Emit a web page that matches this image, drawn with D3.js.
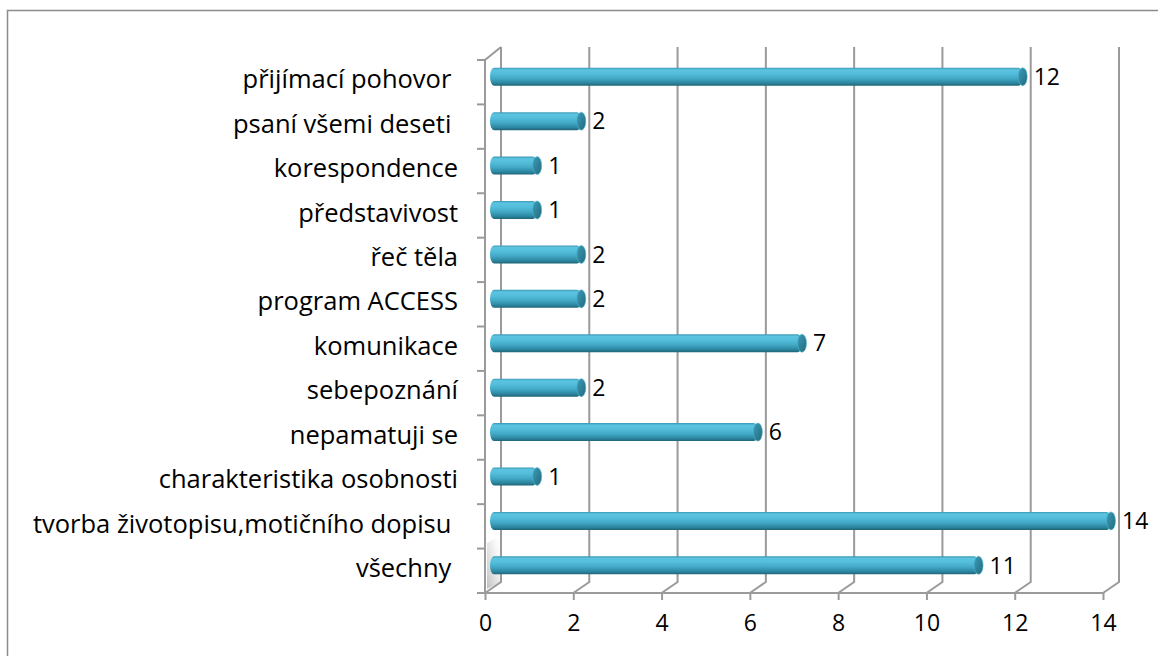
<!DOCTYPE html>
<html>
<head>
<meta charset="utf-8">
<script src="https://cdn.jsdelivr.net/npm/d3@7"></script>
<style>
  html, body { margin: 0; padding: 0; background: #fff; }
  svg { display: block; }
</style>
</head>
<body>
<svg id="chart" width="1158" height="656"></svg>
<script>
// ---- data ----
const categories = [
  "přijímací pohovor ",
  "psaní všemi deseti ",
  "korespondence",
  "představivost",
  "řeč těla",
  "program ACCESS",
  "komunikace",
  "sebepoznání",
  "nepamatuji se",
  "charakteristika osobnosti",
  "tvorba životopisu,motičního dopisu ",
  "všechny "
];
const values = [12, 2, 1, 1, 2, 2, 7, 2, 6, 1, 14, 11];
const tickValues = [0, 2, 4, 6, 8, 10, 12, 14];

// ---- layout ----
const svg = d3.select("#chart");
const FONT = "'Open Sans', 'Noto Sans', sans-serif";
const floorY = 593, topY = 47, wallTop = 60;
const depthX = 16, depthY = -11;      // back-wall offset
const midX = 8, midY = -5.5;          // bar (mid-depth) offset

const x = d3.scaleLinear().domain([0, 14]).range([485, 1103]);
const y = d3.scaleBand().domain(categories).range([wallTop, floorY]);

// outer frame
svg.append("rect")
  .attr("x", 7.5).attr("y", 10.5)
  .attr("width", 1170).attr("height", 670)
  .attr("fill", "none").attr("stroke", "#8c8c8c").attr("stroke-width", 1.5);

const defs = svg.append("defs");
const grad = defs.append("linearGradient").attr("id", "cyl")
  .attr("x1", 0).attr("y1", 0).attr("x2", 0).attr("y2", 1);
[[0, "#3a98b3"], [0.12, "#5cc4e0"], [0.35, "#52bcda"], [0.6, "#42a8c5"], [0.85, "#2c86a0"], [1, "#206477"]]
  .forEach(([o, c]) => grad.append("stop").attr("offset", o).attr("stop-color", c));
const capGrad = defs.append("linearGradient").attr("id", "cap")
  .attr("x1", 0).attr("y1", 0).attr("x2", 1).attr("y2", 1);
[[0, "#3b9cb7"], [1, "#236a7e"]]
  .forEach(([o, c]) => capGrad.append("stop").attr("offset", o).attr("stop-color", c));
const shadow = defs.append("linearGradient").attr("id", "wallShadow")
  .attr("x1", 0).attr("y1", 1).attr("x2", 1).attr("y2", 0);
[[0, "#b8b8b8", 0.9], [0.6, "#e6e6e6", 0.6], [1, "#ffffff", 0]]
  .forEach(([o, c, a]) => shadow.append("stop").attr("offset", o).attr("stop-color", c).attr("stop-opacity", a));

const gridColor = "#9a9a9a";

// left wall shadow near bottom
svg.append("path")
  .attr("d", `M${x(0)+2},${floorY-4} L${x(0)+2},${floorY-50} L${x(0)+depthX},${floorY-58} L${x(0)+depthX},${floorY+depthY} Z`)
  .attr("fill", "url(#wallShadow)");

// back-wall gridlines with floor diagonals
const grid = svg.append("g");
tickValues.forEach(t => {
  const fx = x(t);
  grid.append("path")
    .attr("d", `M${fx},${floorY} L${fx+depthX},${floorY+depthY} L${fx+depthX},${topY}`)
    .attr("fill", "none").attr("stroke", gridColor).attr("stroke-width", 2);
});

// left wall front edge + top diagonal
svg.append("path")
  .attr("d", `M${x(0)+depthX},${topY} L${x(0)},${wallTop} L${x(0)},${floorY}`)
  .attr("fill", "none").attr("stroke", gridColor).attr("stroke-width", 2);

// category tick marks on left wall
const bounds = categories.map(c => y(c)).concat([floorY]);
bounds.forEach(b => {
  svg.append("line").attr("x1", x(0) - 8).attr("x2", x(0)).attr("y1", b).attr("y2", b)
    .attr("stroke", gridColor).attr("stroke-width", 2);
});

// floor front edge
svg.append("line").attr("x1", x(0)).attr("x2", x(14)).attr("y1", floorY).attr("y2", floorY)
  .attr("stroke", gridColor).attr("stroke-width", 2);

// bottom axis
const axis = d3.axisBottom(x).tickValues(tickValues).tickSize(7).tickPadding(15).tickFormat(d3.format("d"));
const ax = svg.append("g").attr("transform", `translate(0,${floorY})`).call(axis);
ax.select(".domain").remove();
ax.selectAll(".tick line").attr("stroke", gridColor).attr("stroke-width", 2);
ax.selectAll(".tick text").attr("font-family", FONT).attr("font-size", 23).attr("fill", "#000");

// bars (cylinders)
const barH = 18;
const bars = svg.append("g");
categories.forEach((c, i) => {
  const cy = y(c) + y.bandwidth() / 2 + midY;
  const x0 = x(0) + midX;
  const x1 = x(values[i]) + midX;
  bars.append("rect")
    .attr("x", x0 - 3).attr("y", cy - barH / 2)
    .attr("width", x1 - x0 + 3).attr("height", barH)
    .attr("rx", 4).attr("ry", barH / 2)
    .attr("fill", "url(#cyl)");
  bars.append("ellipse")
    .attr("cx", x1).attr("cy", cy).attr("rx", 4.5).attr("ry", barH / 2)
    .attr("fill", "url(#cap)").attr("stroke", "#4fb4d0").attr("stroke-width", 0.6);
  svg.append("text")
    .attr("x", x1 + 11).attr("y", cy)
    .attr("dy", "0.36em")
    .attr("font-family", FONT).attr("font-size", 23).attr("fill", "#000")
    .text(values[i]);
});

// category labels
svg.append("g").selectAll("text").data(categories).join("text")
  .attr("x", 458)
  .attr("y", d => y(d) + y.bandwidth() / 2 - 3)
  .attr("dy", "0.36em")
  .attr("text-anchor", "end")
  .attr("xml:space", "preserve")
  .style("white-space", "pre")
  .attr("font-family", FONT).attr("font-size", 25.5).attr("fill", "#000")
  .text(d => d);
</script>
</body>
</html>
